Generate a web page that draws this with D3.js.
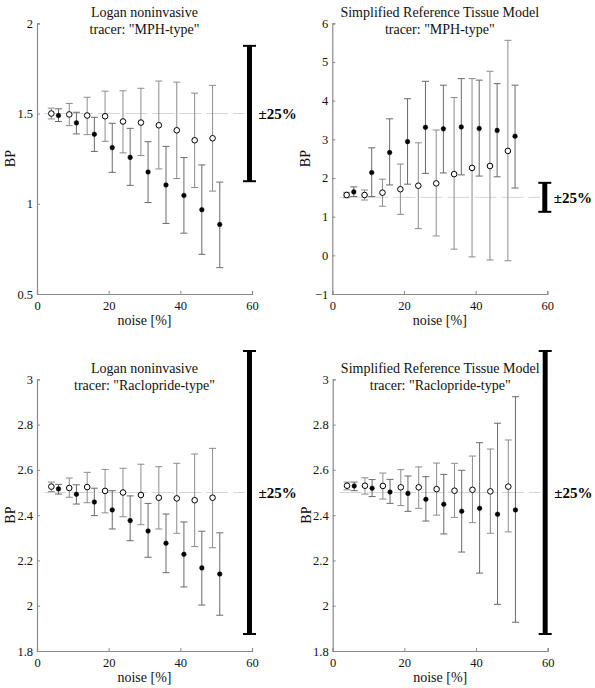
<!DOCTYPE html>
<html>
<head>
<meta charset="utf-8">
<script src="https://cdn.jsdelivr.net/npm/d3@7"></script>
<style>
  html, body { margin: 0; padding: 0; background: #fff; }
  svg { display: block; }
  svg text { font-family: "Liberation Serif", "Times New Roman", serif !important; }
</style>
</head>
<body>
<svg id="chart" width="595" height="688"></svg>
<script>
// ---------- data ----------
const noiseOpen   = [4, 9, 14, 19, 24, 29, 34, 39, 44, 49];
const noiseFilled = [6, 11, 16, 21, 26, 31, 36, 41, 46, 51];
const xTicks = [0, 20, 40, 60];

// Panel 1: Logan noninvasive, MPH-type
const p1OpenMean = [1.50, 1.495, 1.489, 1.485, 1.456, 1.45, 1.435, 1.407, 1.352, 1.363];
const p1OpenHi   = [1.53, 1.556, 1.59, 1.624, 1.626, 1.64, 1.68, 1.674, 1.613, 1.656];
const p1OpenLo   = [1.47, 1.433, 1.383, 1.346, 1.282, 1.267, 1.193, 1.14, 1.09, 1.07];
const p1FillMean = [1.489, 1.448, 1.385, 1.311, 1.257, 1.176, 1.104, 1.046, 0.967, 0.885];
const p1FillHi   = [1.526, 1.507, 1.479, 1.446, 1.418, 1.344, 1.318, 1.256, 1.215, 1.12];
const p1FillLo   = [1.456, 1.387, 1.29, 1.174, 1.102, 1.007, 0.891, 0.837, 0.72, 0.646];
const p1YTicks = [0.5, 1, 1.5, 2];

// Panel 2: SRTM, MPH-type
const p2OpenMean = [1.56, 1.56, 1.62, 1.71, 1.80, 1.86, 2.10, 2.26, 2.31, 2.70];
const p2OpenHi   = [1.63, 1.69, 1.97, 2.36, 2.91, 3.24, 4.08, 4.57, 4.76, 5.56];
const p2OpenLo   = [1.49, 1.43, 1.27, 1.06, 0.69, 0.50, 0.16, -0.04, -0.12, -0.14];
const p2FillMean = [1.64, 2.14, 2.66, 2.94, 3.31, 3.27, 3.32, 3.28, 3.23, 3.08];
const p2FillHi   = [1.77, 2.78, 3.53, 4.05, 4.50, 4.40, 4.57, 4.53, 4.44, 4.40];
const p2FillLo   = [1.52, 1.52, 1.82, 1.84, 2.12, 2.13, 2.08, 2.05, 2.03, 1.74];
const p2YTicks = [-1, 0, 1, 2, 3, 4, 5, 6];

// Panel 3: Logan noninvasive, Raclopride-type
const p3OpenMean = [2.526, 2.520, 2.524, 2.507, 2.500, 2.489, 2.477, 2.474, 2.466, 2.477];
const p3OpenHi   = [2.546, 2.564, 2.589, 2.602, 2.607, 2.625, 2.614, 2.629, 2.670, 2.695];
const p3OpenLo   = [2.504, 2.479, 2.455, 2.410, 2.393, 2.358, 2.339, 2.320, 2.261, 2.256];
const p3FillMean = [2.516, 2.492, 2.458, 2.423, 2.376, 2.330, 2.276, 2.227, 2.167, 2.140];
const p3FillHi   = [2.536, 2.534, 2.519, 2.508, 2.485, 2.452, 2.405, 2.370, 2.329, 2.322];
const p3FillLo   = [2.493, 2.449, 2.398, 2.339, 2.287, 2.214, 2.146, 2.083, 2.003, 1.958];
const p3YTicks = [1.8, 2, 2.2, 2.4, 2.6, 2.8, 3];

// Panel 4: SRTM, Raclopride-type
const p4OpenMean = [2.530, 2.530, 2.529, 2.523, 2.523, 2.515, 2.508, 2.512, 2.505, 2.526];
const p4OpenHi   = [2.546, 2.565, 2.586, 2.601, 2.613, 2.630, 2.629, 2.661, 2.692, 2.732];
const p4OpenLo   = [2.512, 2.493, 2.471, 2.442, 2.430, 2.400, 2.390, 2.367, 2.320, 2.326];
const p4FillMean = [2.529, 2.519, 2.502, 2.496, 2.470, 2.448, 2.417, 2.430, 2.404, 2.423];
const p4FillHi   = [2.546, 2.557, 2.558, 2.573, 2.570, 2.580, 2.598, 2.720, 2.806, 2.923];
const p4FillLo   = [2.508, 2.482, 2.452, 2.417, 2.374, 2.317, 2.237, 2.144, 2.006, 1.927];

const refValues = [1.5, 1.5, 2.5, 2.5];
const bandFraction = 0.25;
const bandNoise = 59.3;
const titles = [
  ["Logan noninvasive", "tracer: \"MPH-type\""],
  ["Simplified Reference Tissue Model", "tracer: \"MPH-type\""],
  ["Logan noninvasive", "tracer: \"Raclopride-type\""],
  ["Simplified Reference Tissue Model", "tracer: \"Raclopride-type\""]
];
const xLabel = "noise [%]";
const yLabel = "BP";
const bandLabel = "±25%";

// ---------- layout ----------
const panels = [
  {x0: 37,    x1: 252,   yTop: 23.3,  yBot: 294, yDom: [0.5, 2], yTicks: p1YTicks,
   open: [p1OpenMean, p1OpenHi, p1OpenLo], fill: [p1FillMean, p1FillHi, p1FillLo]},
  {x0: 332.3, x1: 547.3, yTop: 23.3,  yBot: 294, yDom: [-1, 6], yTicks: p2YTicks,
   open: [p2OpenMean, p2OpenHi, p2OpenLo], fill: [p2FillMean, p2FillHi, p2FillLo]},
  {x0: 37,    x1: 252,   yTop: 379.3, yBot: 651, yDom: [1.8, 3], yTicks: p3YTicks,
   open: [p3OpenMean, p3OpenHi, p3OpenLo], fill: [p3FillMean, p3FillHi, p3FillLo]},
  {x0: 332.7, x1: 547.7, yTop: 379.3, yBot: 651, yDom: [1.8, 3], yTicks: p3YTicks,
   open: [p4OpenMean, p4OpenHi, p4OpenLo], fill: [p4FillMean, p4FillHi, p4FillLo]}
];

const svg = d3.select("#chart");
const axisColor = "#8a8a8a";
const serif = "'Liberation Serif', 'Times New Roman', serif";

panels.forEach((p, i) => {
  const x = d3.scaleLinear().domain([0, 60]).range([p.x0, p.x1]);
  const y = d3.scaleLinear().domain(p.yDom).range([p.yBot, p.yTop]);
  const g = svg.append("g").attr("font-family", serif);
  const ref = refValues[i];

  // reference line
  g.append("line")
    .attr("x1", x(2)).attr("x2", x(58))
    .attr("y1", y(ref)).attr("y2", y(ref))
    .attr("stroke", "#d6d6d6").attr("stroke-width", 1)
    .attr("stroke-dasharray", "22,5");

  // axes
  const yAxis = d3.axisLeft(y).tickValues(p.yTicks).tickSize(-3).tickPadding(4)
    .tickFormat(d3.format("~g"));
  const gy = g.append("g").attr("transform", `translate(${p.x0},0)`).call(yAxis);
  const xAxis = d3.axisBottom(x).tickValues(xTicks).tickSize(-3).tickPadding(5);
  const gx = g.append("g").attr("transform", `translate(0,${p.yBot})`).call(xAxis);
  [gx, gy].forEach(a => {
    a.attr("font-family", serif).attr("font-size", 12.5);
    a.select(".domain").attr("stroke", axisColor).attr("stroke-width", 1.2);
    a.selectAll(".tick line").attr("stroke", axisColor);
    a.selectAll(".tick text").attr("fill", "#111");
  });
  gx.selectAll(".tick text").attr("dy", "0.9em");

  // error bars
  const series = [
    {noise: noiseOpen, vals: p.open, filled: false, color: "#8c8c8c"},
    {noise: noiseFilled, vals: p.fill, filled: true, color: "#6a6a6a"}
  ];
  const cap = 3.5;
  series.forEach(s => {
    const [mean, hi, lo] = s.vals;
    const eg = g.append("g");
    s.noise.forEach((n, k) => {
      const cx = x(n);
      eg.append("line").attr("x1", cx).attr("x2", cx)
        .attr("y1", y(hi[k])).attr("y2", y(lo[k]))
        .attr("stroke", s.color).attr("stroke-width", 1);
      [hi[k], lo[k]].forEach(v => {
        eg.append("line").attr("x1", cx - cap).attr("x2", cx + cap)
          .attr("y1", y(v)).attr("y2", y(v))
          .attr("stroke", s.color).attr("stroke-width", 1);
      });
    });
  });
  // markers
  series.forEach(s => {
    const [mean] = s.vals;
    g.append("g").selectAll("circle").data(s.noise).join("circle")
      .attr("cx", d => x(d))
      .attr("cy", (d, k) => y(mean[k]))
      .attr("r", s.filled ? 2.3 : 2.8)
      .attr("fill", s.filled ? "#000" : "#fff")
      .attr("stroke", "#000")
      .attr("stroke-width", s.filled ? 0.5 : 1);
  });

  // ±25% band bar
  const bx = x(bandNoise);
  const yHi = y(ref * (1 + bandFraction)), yLo = y(ref * (1 - bandFraction));
  g.append("line").attr("x1", bx).attr("x2", bx).attr("y1", yHi).attr("y2", yLo)
    .attr("stroke", "#000").attr("stroke-width", 5);
  [yHi, yLo].forEach(yy => {
    g.append("line").attr("x1", bx - 6.5).attr("x2", bx + 6.5).attr("y1", yy).attr("y2", yy)
      .attr("stroke", "#000").attr("stroke-width", 2);
  });
  g.append("text").attr("x", bx + 9).attr("y", y(ref)).attr("dy", "0.35em")
    .attr("font-size", 15).attr("font-weight", "bold").attr("fill", "#000")
    .text(bandLabel);

  // titles
  const tc = (p.x0 + p.x1) / 2;
  g.append("text").attr("x", tc).attr("y", p.yTop - 6.5).attr("text-anchor", "middle")
    .attr("font-size", 14).attr("fill", "#111").text(titles[i][0]);
  g.append("text").attr("x", tc).attr("y", p.yTop + 10.5).attr("text-anchor", "middle")
    .attr("font-size", 14).attr("fill", "#111").text(titles[i][1]);

  // axis labels
  g.append("text").attr("x", tc).attr("y", p.yBot + 31).attr("text-anchor", "middle")
    .attr("font-size", 14).attr("fill", "#111").text(xLabel);
  g.append("text")
    .attr("transform", `translate(${p.x0 - 22},${(p.yTop + p.yBot) / 2}) rotate(-90)`)
    .attr("text-anchor", "middle")
    .attr("font-size", 14).attr("fill", "#111").text(yLabel);
});
</script>
</body>
</html>
